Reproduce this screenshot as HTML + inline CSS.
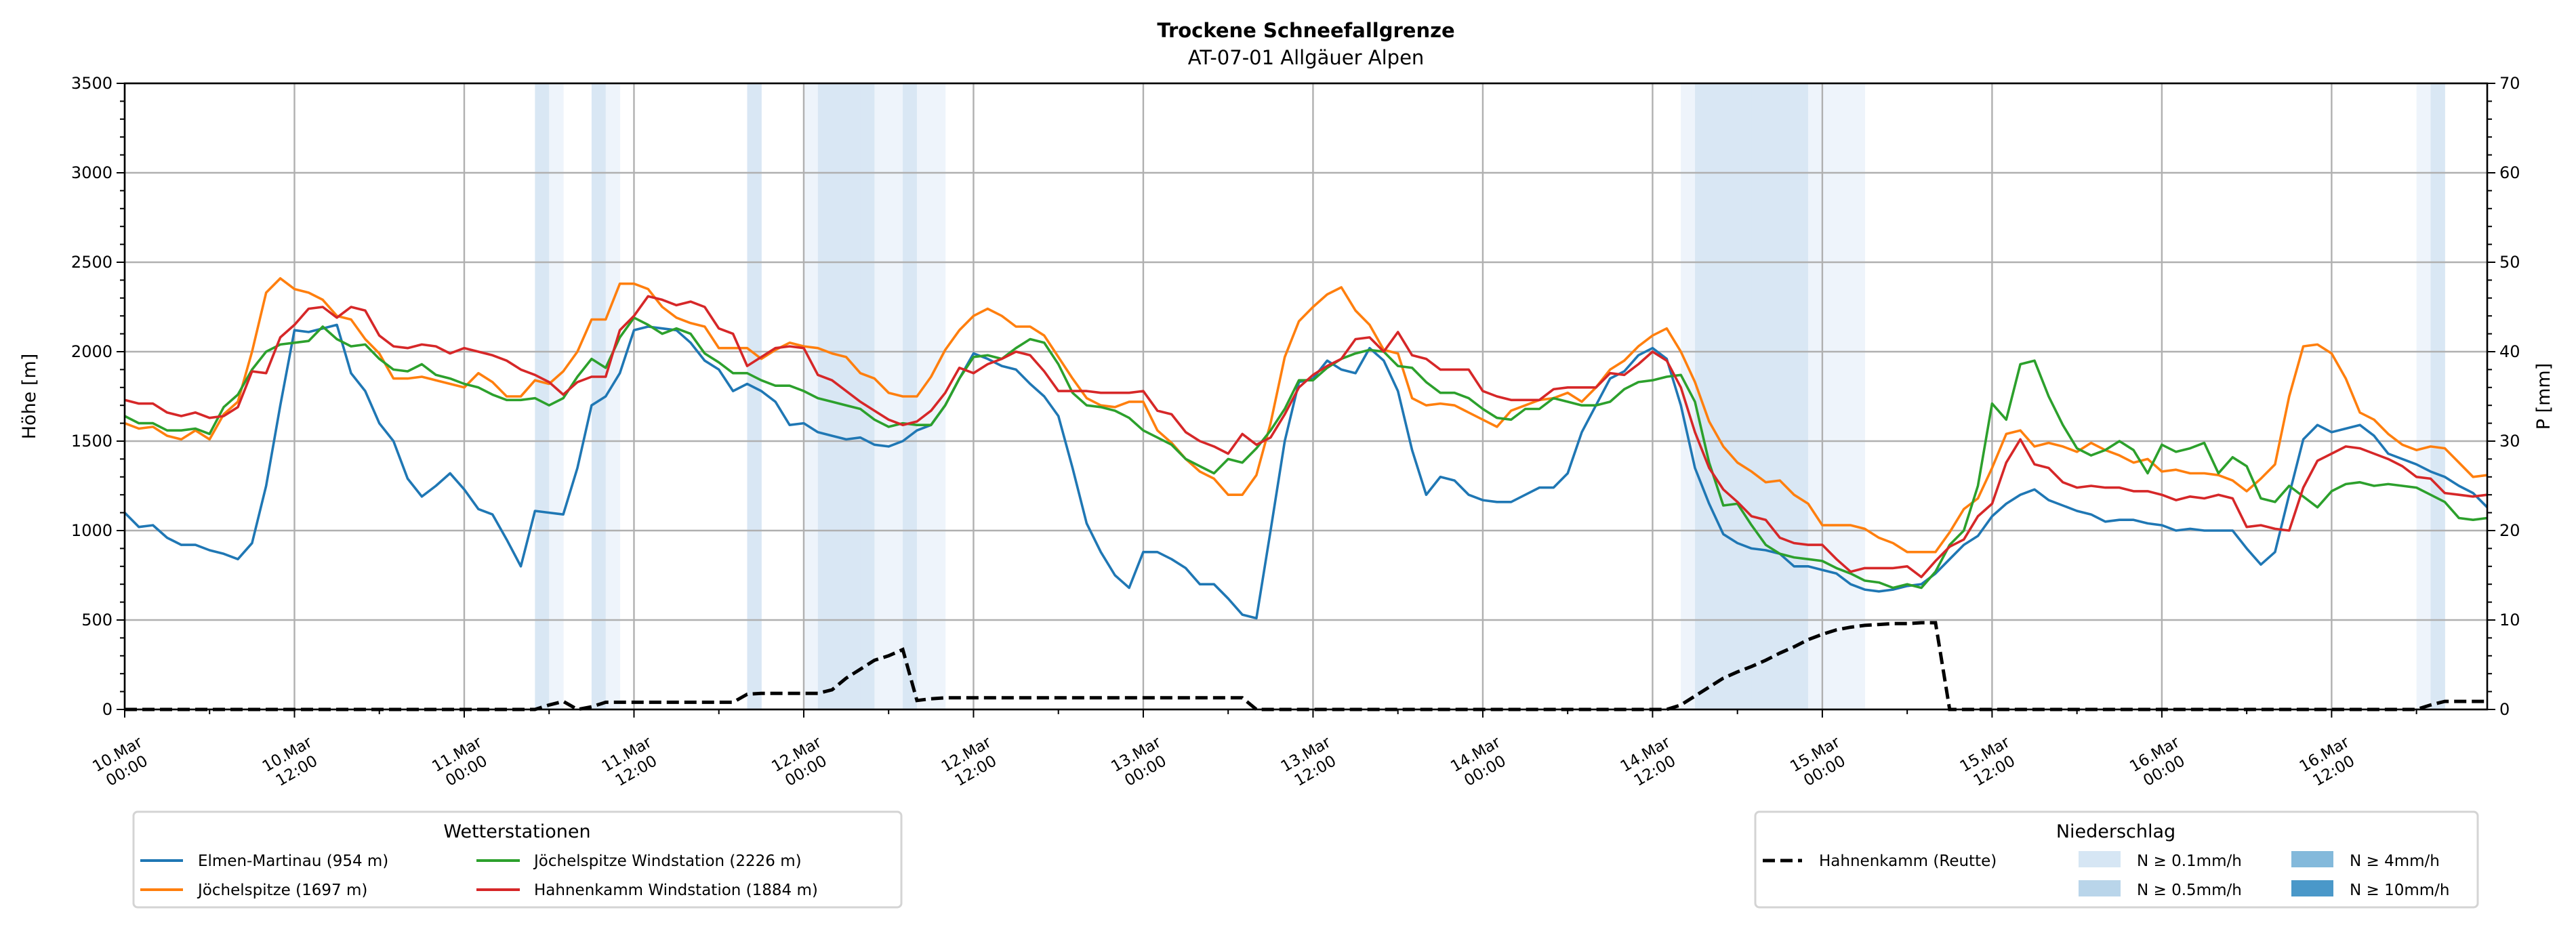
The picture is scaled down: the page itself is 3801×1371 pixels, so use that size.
<!DOCTYPE html>
<html><head><meta charset="utf-8">
<style>
html,body{margin:0;padding:0;background:#fff;}
svg{display:block;font-family:"DejaVu Sans","Liberation Sans",sans-serif;}
</style></head>
<body>
<svg id="chart" width="3801" height="1371" viewBox="0 0 3801 1371" xmlns="http://www.w3.org/2000/svg">
<text x="1927" y="55" text-anchor="middle" font-size="29" font-weight="bold">Trockene Schneefallgrenze</text>
<text x="1927" y="95" text-anchor="middle" font-size="29">AT-07-01 Allgäuer Alpen</text>
<g id="bands"></g>
<g id="grid"></g>
<g id="series"></g>
<g id="axes"></g>
<text transform="translate(52,585) rotate(-90)" text-anchor="middle" font-size="27">Höhe [m]</text>
<text transform="translate(3762,585) rotate(-90)" text-anchor="middle" font-size="27">P [mm]</text>

<g>
<rect x="197" y="1198" width="1133" height="141" rx="6" fill="#fff" stroke="#d4d4d4" stroke-width="3"/>
<text x="763" y="1236" text-anchor="middle" font-size="27">Wetterstationen</text>
<g><line x1="207" y1="1270" x2="270" y2="1270" stroke="#1f77b4" stroke-width="4"/><text x="292" y="1278" font-size="23">Elmen-Martinau (954 m)</text></g>
<g><line x1="207" y1="1313" x2="270" y2="1313" stroke="#ff7f0e" stroke-width="4"/><text x="292" y="1321" font-size="23">Jöchelspitze (1697 m)</text></g>
<g><line x1="703" y1="1270" x2="767" y2="1270" stroke="#2ca02c" stroke-width="4"/><text x="788" y="1278" font-size="23">Jöchelspitze Windstation (2226 m)</text></g>
<g><line x1="703" y1="1313" x2="767" y2="1313" stroke="#d62728" stroke-width="4"/><text x="788" y="1321" font-size="23">Hahnenkamm Windstation (1884 m)</text></g>
</g>

<g>
<rect x="2590" y="1198" width="1066" height="141" rx="6" fill="#fff" stroke="#d4d4d4" stroke-width="3"/>
<text x="3122" y="1236" text-anchor="middle" font-size="27">Niederschlag</text>
<g><line x1="2601" y1="1270" x2="2659" y2="1270" stroke="#000" stroke-width="5" stroke-dasharray="18,8"/><text x="2684" y="1278" font-size="23">Hahnenkamm (Reutte)</text></g>
<g><rect x="3067" y="1256" width="62" height="24" fill="#d6e6f4"/><text x="3153" y="1278" font-size="23">N ≥ 0.1mm/h</text></g>
<g><rect x="3067" y="1299" width="62" height="24" fill="#b9d5ea"/><text x="3153" y="1321" font-size="23">N ≥ 0.5mm/h</text></g>
<g><rect x="3381" y="1256" width="62" height="24" fill="#83b9db"/><text x="3467" y="1278" font-size="23">N ≥ 4mm/h</text></g>
<g><rect x="3381" y="1299" width="62" height="24" fill="#4a98c9"/><text x="3467" y="1321" font-size="23">N ≥ 10mm/h</text></g>
</g>
</svg>
<script>
const elmen=[1100,1020,1030,960,920,920,890,870,840,930,1250,1700,2120,2110,2130,2150,1880,1780,1600,1500,1290,1190,1250,1320,1230,1120,1090,950,800,1110,1100,1090,1350,1700,1750,1880,2120,2140,2130,2120,2050,1950,1900,1780,1820,1780,1720,1590,1600,1550,1530,1510,1520,1480,1470,1500,1560,1590,1700,1850,1990,1960,1920,1900,1820,1750,1640,1350,1040,880,750,680,880,880,840,790,700,700,620,530,510,1000,1500,1830,1850,1950,1900,1880,2020,1950,1780,1450,1200,1300,1280,1200,1170,1160,1160,1200,1240,1240,1320,1550,1700,1850,1890,1980,2020,1960,1700,1350,1150,980,930,900,890,870,800,800,780,760,700,670,660,670,690,700,760,840,920,970,1080,1150,1200,1230,1170,1140,1110,1090,1050,1060,1060,1040,1030,1000,1010,1000,1000,1000,900,810,880,1200,1510,1590,1550,1570,1590,1530,1430,1400,1370,1330,1300,1250,1210,1130];
const joechel=[1600,1570,1580,1530,1510,1560,1510,1650,1720,2000,2330,2410,2350,2330,2290,2200,2180,2070,1990,1850,1850,1860,1840,1820,1800,1880,1830,1750,1750,1840,1820,1890,2000,2180,2180,2380,2380,2350,2250,2190,2160,2140,2020,2020,2020,1960,2010,2050,2030,2020,1990,1970,1880,1850,1770,1750,1750,1860,2010,2120,2200,2240,2200,2140,2140,2090,1970,1850,1740,1700,1690,1720,1720,1560,1490,1400,1330,1290,1200,1200,1310,1600,1970,2170,2250,2320,2360,2230,2150,2010,1990,1740,1700,1710,1700,1660,1620,1580,1670,1700,1730,1740,1770,1720,1800,1900,1950,2030,2090,2130,2000,1830,1610,1470,1380,1330,1270,1280,1200,1150,1030,1030,1030,1010,960,930,880,880,880,990,1120,1180,1350,1540,1560,1470,1490,1470,1440,1490,1450,1420,1380,1400,1330,1340,1320,1320,1310,1280,1220,1290,1370,1750,2030,2040,1990,1850,1660,1620,1540,1480,1450,1470,1460,1380,1300,1310];
const joechelWind=[1640,1600,1600,1560,1560,1570,1540,1690,1760,1900,2000,2040,2050,2060,2140,2070,2030,2040,1960,1900,1890,1930,1870,1850,1820,1800,1760,1730,1730,1740,1700,1740,1860,1960,1910,2080,2190,2150,2100,2130,2100,1990,1940,1880,1880,1840,1810,1810,1780,1740,1720,1700,1680,1620,1580,1600,1590,1590,1700,1850,1970,1980,1960,2020,2070,2050,1930,1770,1700,1690,1670,1630,1560,1520,1480,1400,1360,1320,1400,1380,1460,1560,1680,1840,1840,1910,1960,1990,2010,2000,1920,1910,1830,1770,1770,1740,1680,1630,1620,1680,1680,1740,1720,1700,1700,1720,1790,1830,1840,1860,1870,1720,1380,1140,1150,1030,920,870,850,840,830,790,760,720,710,680,700,680,770,920,1000,1250,1710,1620,1930,1950,1750,1590,1460,1420,1450,1500,1450,1320,1480,1440,1460,1490,1320,1410,1360,1180,1160,1250,1190,1130,1220,1260,1270,1250,1260,1250,1240,1200,1160,1070,1060,1070];
const hahnWind=[1730,1710,1710,1660,1640,1660,1630,1640,1690,1890,1880,2080,2150,2240,2250,2190,2250,2230,2090,2030,2020,2040,2030,1990,2020,2000,1980,1950,1900,1870,1830,1760,1830,1860,1860,2120,2200,2310,2290,2260,2280,2250,2130,2100,1920,1970,2020,2030,2020,1870,1840,1780,1720,1670,1620,1590,1610,1670,1770,1910,1880,1930,1960,2000,1980,1890,1780,1780,1780,1770,1770,1770,1780,1670,1650,1550,1500,1470,1430,1540,1480,1520,1650,1800,1870,1920,1960,2070,2080,2000,2110,1980,1960,1900,1900,1900,1780,1750,1730,1730,1730,1790,1800,1800,1800,1880,1870,1930,2000,1950,1800,1550,1350,1230,1160,1080,1060,960,930,920,920,840,770,790,790,790,800,740,830,910,950,1080,1150,1380,1510,1370,1350,1270,1240,1250,1240,1240,1220,1220,1200,1170,1190,1180,1200,1180,1020,1030,1010,1000,1240,1390,1430,1470,1460,1430,1400,1360,1300,1290,1210,1200,1190,1200];
const precip=[
0,0,0,0,0,0,0,0,0,0,
0,0,0,0,0,0,0,0,0,0,
0,0,0,0,0,0,0,0,0,0,
0.5,0.9,0,0.3,0.8,0.8,0.8,0.8,0.8,0.8,
0.8,0.8,0.8,0.8,1.7,1.8,1.8,1.8,1.8,1.8,
2.2,3.5,4.5,5.5,6.0,6.7,1.0,1.2,1.3,1.3,
1.3,1.3,1.3,1.3,1.3,1.3,1.3,1.3,1.3,1.3,
1.3,1.3,1.3,1.3,1.3,1.3,1.3,1.3,1.3,1.3,
0,0,0,0,0,0,0,0,0,0,
0,0,0,0,0,0,0,0,0,0,
0,0,0,0,0,0,0,0,0,0,
0.5,1.5,2.5,3.5,4.2,4.8,5.5,6.3,7.0,7.8,
8.4,8.9,9.2,9.4,9.5,9.6,9.6,9.7,9.7,0,
0,0,0,0,0,0,0,0,0,0,
0,0,0,0,0,0,0,0,0,0,
0,0,0,0,0,0,0,0,0,0,
0,0,0,0.5,0.9,0.9,0.9,0.9];
// band intensity per hour: 0 none, 1 faint, 2 light
const bandLevel=[0,0,0,0,0,0,0,0,0,0,0,0,0,0,0,0,0,0,0,0,0,0,0,0,0,0,0,0,0,2,1,0,0,2,1,0,0,0,0,0,0,0,0,0,2,0,0,0,1,2,2,2,2,1,1,2,1,1,0,0,0,0,0,0,0,0,0,0,0,0,0,0,0,0,0,0,0,0,0,0,0,0,0,0,0,0,0,0,0,0,0,0,0,0,0,0,0,0,0,0,0,0,0,0,0,0,0,0,0,0,1,2,2,2,2,2,2,2,2,1,1,1,1,0,0,0,0,0,0,0,0,0,0,0,0,0,0,0,0,0,0,0,0,0,0,0,0,0,0,0,0,0,0,0,0,0,0,0,0,0,0,0,1,2,0,0,0,0];
const xTickLabels=[["10.Mar","00:00"],["10.Mar","12:00"],["11.Mar","00:00"],["11.Mar","12:00"],["12.Mar","00:00"],["12.Mar","12:00"],["13.Mar","00:00"],["13.Mar","12:00"],["14.Mar","00:00"],["14.Mar","12:00"],["15.Mar","00:00"],["15.Mar","12:00"],["16.Mar","00:00"],["16.Mar","12:00"]];
const yTicks=[0,500,1000,1500,2000,2500,3000,3500];
const y2Ticks=[0,10,20,30,40,50,60,70];

const L=184,R=3670,T=123,B=1047,HMAX=167;
const X=h=>L+(R-L)*h/HMAX;
const Y=v=>B-(B-T)*v/3500;
const Y2=v=>B-(B-T)*v/70;
const NS="http://www.w3.org/2000/svg";
function mk(parent,tag,attrs){const e=document.createElementNS(NS,tag);for(const k in attrs)e.setAttribute(k,attrs[k]);document.getElementById(parent).appendChild(e);return e;}

const bandColors=["none","#eef4fb","#d9e7f4"];
bandLevel.forEach((lv,h)=>{if(!lv)return;
 const r=mk('bands','rect',{x:X(h),y:T,width:X(h+1)-X(h)+0.5,height:B-T,fill:bandColors[lv]});
 
 
});
for(let i=0;i<xTickLabels.length;i++){const x=X(i*12);
 const g=mk('grid','line',{x1:x,x2:x,y1:T,y2:B,stroke:'#b0b0b0','stroke-width':2.4});
 
 
}
yTicks.forEach(v=>{
 const g=mk('grid','line',{x1:L,x2:R,y1:Y(v),y2:Y(v),stroke:'#b0b0b0','stroke-width':2.4});
 
 
});
function line(arr,color,name){
 const d=arr.map((v,h)=>(h?'L':'M')+X(h).toFixed(1)+','+Y(v).toFixed(1)).join('');
 const p=mk('series','path',{d:d,fill:'none',stroke:color,'stroke-width':3.6,'stroke-linejoin':'round'});
 
 
}
line(elmen,'#1f77b4','line-elmen-martinau');
line(joechel,'#ff7f0e','line-joechelspitze');
line(joechelWind,'#2ca02c','line-joechelspitze-windstation');
line(hahnWind,'#d62728','line-hahnenkamm-windstation');
{const d=precip.map((v,h)=>(h?'L':'M')+X(h).toFixed(1)+','+Y2(v).toFixed(1)).join('');
 const p=mk('series','path',{d:d,fill:'none',stroke:'#000','stroke-width':5,'stroke-dasharray':'18,8'});
 
 
}
{const f=mk('axes','rect',{x:L,y:T,width:R-L,height:B-T,fill:'none',stroke:'#000','stroke-width':2.6});
 
 }
for(let h=0;h<=HMAX;h+=6){const x=X(h);const major=h%12===0;
 mk('axes','line',{x1:x,x2:x,y1:B,y2:B+(major?12:7),stroke:'#000','stroke-width':2});}
xTickLabels.forEach((lab,i)=>{const x=X(i*12);
 const t=mk('axes','text',{transform:`translate(${x-4},${1125}) rotate(-30)`,'text-anchor':'middle','font-size':23});
 
 
 const a=document.createElementNS(NS,'tspan');a.setAttribute('x',0);a.setAttribute('y',-6);a.textContent=lab[0];t.appendChild(a);
 const b=document.createElementNS(NS,'tspan');b.setAttribute('x',0);b.setAttribute('y',22);b.textContent=lab[1];t.appendChild(b);
});
for(let v=0;v<=3500;v+=100){const y=Y(v);const major=v%500===0;
 mk('axes','line',{x1:L,x2:L-(major?12:7),y1:y,y2:y,stroke:'#000','stroke-width':2});}
yTicks.forEach(v=>{const t=mk('axes','text',{x:L-18,y:Y(v)+8,'text-anchor':'end','font-size':24});
 
 
 t.textContent=v;});
for(let v=0;v<=70;v+=2){const y=Y2(v);const major=v%10===0;
 mk('axes','line',{x1:R,x2:R+(major?12:7),y1:y,y2:y,stroke:'#000','stroke-width':2});}
y2Ticks.forEach(v=>{const t=mk('axes','text',{x:R+18,y:Y2(v)+8,'text-anchor':'start','font-size':24});
 
 
 t.textContent=v;});
</script>
</body></html>
